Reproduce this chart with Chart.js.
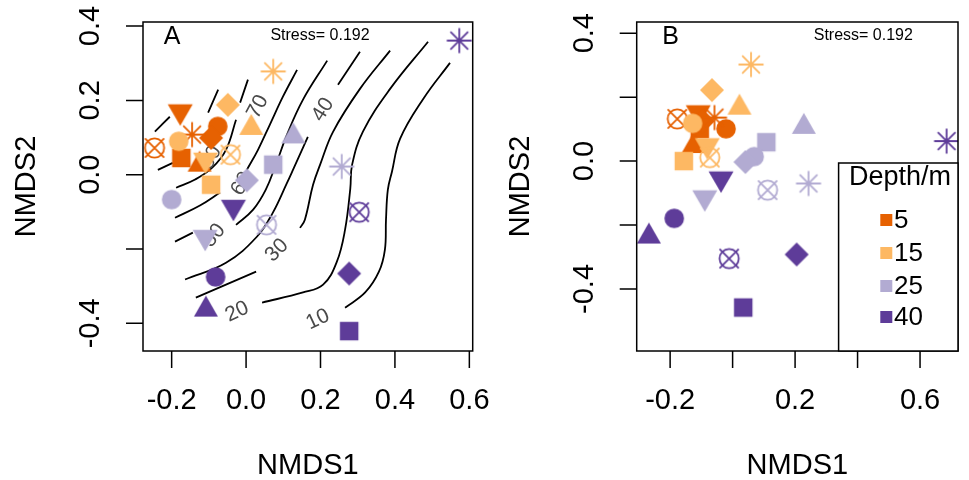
<!DOCTYPE html>
<html><head><meta charset="utf-8">
<script src="https://cdn.jsdelivr.net/npm/chart.js@4/dist/chart.umd.min.js"></script>
<style>
html,body{margin:0;padding:0;background:#fff;}
body{width:969px;height:480px;overflow:hidden;position:relative;}
canvas{position:absolute;top:0;}
</style></head>
<body>
<canvas id="pA" width="530" height="480" style="left:0px"></canvas>
<canvas id="pB" width="485" height="480" style="left:484px"></canvas>
<script>
// ---------------- DATA ----------------
const depthLabels = ['5', '15', '25', '40'];
const depthColors = ['#E66101', '#FDB863', '#B2ABD2', '#5E3C99'];
// marker order for every depth: square, circle, triangle, down-triangle, diamond, circle-X, asterisk
const shapeNames = ['square', 'circle', 'triangle', 'downTriangle', 'diamond', 'circleX', 'asterisk'];

// Panel A ordination scores [NMDS1, NMDS2]
const scoresA_5m  = [[-0.174, 0.045], [-0.076, 0.130], [-0.125, 0.027], [-0.177, 0.170], [-0.094, 0.099], [-0.246, 0.072], [-0.145, 0.108]];
const scoresA_15m = [[-0.094, -0.027], [-0.181, 0.090], [0.014, 0.126], [-0.109, 0.040], [-0.049, 0.188], [-0.042, 0.054], [0.073, 0.278]];
const scoresA_25m = [[0.073, 0.027], [-0.200, -0.067], [0.127, 0.103], [-0.110, -0.168], [0.002, -0.015], [0.055, -0.135], [0.257, 0.022]];
const scoresA_40m = [[0.277, -0.421], [-0.082, -0.275], [-0.108, -0.363], [-0.034, -0.087], [0.277, -0.266], [0.304, -0.101], [0.573, 0.361]];

// Panel B ordination scores
const scoresB_5m  = [[-0.105, 0.100], [-0.021, 0.101], [-0.125, 0.047], [-0.110, 0.152], [-0.095, 0.125], [-0.177, 0.132], [-0.058, 0.136]];
const scoresB_15m = [[-0.156, 0.000], [-0.128, 0.118], [0.022, 0.167], [-0.081, 0.049], [-0.066, 0.222], [-0.073, 0.011], [0.059, 0.302]];
const scoresB_25m = [[0.108, 0.059], [0.069, 0.014], [0.228, 0.107], [-0.089, -0.114], [0.041, -0.003], [0.112, -0.091], [0.243, -0.070]];
const scoresB_40m = [[0.034, -0.458], [-0.187, -0.179], [-0.268, -0.236], [-0.037, -0.055], [0.205, -0.292], [-0.011, -0.305], [0.685, 0.0625]];

// Fitted surface contours in panel A (pieces, broken where labels sit)
const contour10 = [[[0.266, -0.358], [0.320, -0.317], [0.357, -0.261], [0.373, -0.202], [0.376, -0.121], [0.381, -0.040], [0.392, 0.008], [0.414, 0.097], [0.476, 0.204], [0.548, 0.301]]];
const contour20 = [[[0.043, -0.344], [0.153, -0.317], [0.207, -0.296], [0.244, -0.234], [0.266, -0.148], [0.280, -0.038], [0.285, 0.027], [0.314, 0.116], [0.387, 0.231], [0.489, 0.358]]];
const contour30 = [[[-0.135, -0.331], [0.027, -0.261]], [[0.145, -0.143], [0.158, -0.121], [0.180, -0.027], [0.199, 0.027], [0.234, 0.116], [0.306, 0.231], [0.387, 0.334]]];
const contour40 = [[[-0.164, -0.282], [-0.054, -0.237], [0.029, -0.167], [0.072, -0.102], [0.110, -0.022], [0.126, 0.013], [0.166, 0.102]], [[0.247, 0.242], [0.306, 0.331]]];
const contour50 = [[[-0.191, -0.180], [-0.143, -0.156]], [[-0.027, -0.135], [0.019, -0.094], [0.053, -0.040], [0.080, 0.027], [0.110, 0.108], [0.153, 0.202], [0.218, 0.307]]];
const contour60 = [[[-0.191, -0.116], [-0.124, -0.083], [-0.070, -0.048]], [[0.002, 0.013], [0.032, 0.067], [0.064, 0.135], [0.099, 0.210], [0.137, 0.282]]];
const contour70 = [[[-0.188, -0.035], [-0.137, -0.013], [-0.091, 0.019], [-0.054, 0.067], [-0.027, 0.148]], [[-0.016, 0.194], [0.005, 0.256]]];
const contour80 = [[[-0.237, 0.013], [-0.197, 0.032]], [[-0.102, 0.167], [-0.075, 0.229]]];
const contour90 = [[[-0.245, 0.116], [-0.205, 0.156]]];

// contour labels: [text, NMDS1, NMDS2, angle]
const contourLabels = [
  ['10', 0.193, -0.390, -25], ['20', -0.024, -0.369, -25], ['30', 0.083, -0.204, -45],
  ['40', 0.207, 0.175, -58], ['50', -0.086, -0.164, -50], ['60', -0.011, -0.024, -60],
  ['70', 0.032, 0.183, -62], ['80', -0.094, 0.046, -60]
];

// axes
const xTicks = [-0.2, 0.0, 0.2, 0.4, 0.6];
const yTicks = [0.4, 0.2, 0.0, -0.2, -0.4];
const xTickLabelsA = ['-0.2', '0.0', '0.2', '0.4', '0.6'];
const yTickLabelsA = ['0.4', '0.2', '0.0', '', '-0.4'];
const xTickLabelsB = ['-0.2', '', '0.2', '', '0.6'];
const yTickLabelsB = ['0.4', '', '0.0', '', '-0.4'];
const stressText = 'Stress= 0.192';

// ---------------- RENDERING ----------------
const FONT = '"Liberation Sans", Arial, Helvetica, sans-serif';

function makeMarker(shape, color) {
  const S = 34, c = document.createElement('canvas');
  c.width = S; c.height = S;
  const g = c.getContext('2d'), m = S / 2;
  g.fillStyle = color; g.strokeStyle = color; g.lineWidth = 1.8;
  switch (shape) {
    case 'square': g.fillRect(m - 9.25, m - 9.25, 18.5, 18.5); break;
    case 'circle': g.beginPath(); g.arc(m, m, 9.8, 0, 2 * Math.PI); g.fill(); break;
    case 'triangle': { const w = 24, h = 21; g.beginPath(); g.moveTo(m, m - 2 * h / 3); g.lineTo(m + w / 2, m + h / 3); g.lineTo(m - w / 2, m + h / 3); g.closePath(); g.fill(); break; }
    case 'downTriangle': { const w = 25, h = 21.5; g.beginPath(); g.moveTo(m, m + 2 * h / 3); g.lineTo(m + w / 2, m - h / 3); g.lineTo(m - w / 2, m - h / 3); g.closePath(); g.fill(); break; }
    case 'diamond': { const r = 12; g.beginPath(); g.moveTo(m, m - r); g.lineTo(m + r, m); g.lineTo(m, m + r); g.lineTo(m - r, m); g.closePath(); g.fill(); break; }
    case 'circleX': { const r = 9.6; g.beginPath(); g.arc(m, m, r, 0, 2 * Math.PI); g.stroke(); g.beginPath(); g.moveTo(m - r, m - r); g.lineTo(m + r, m + r); g.moveTo(m - r, m + r); g.lineTo(m + r, m - r); g.stroke(); break; }
    case 'asterisk': { const L = 12.5, d = L / Math.SQRT2; g.beginPath(); g.moveTo(m - L, m); g.lineTo(m + L, m); g.moveTo(m, m - L); g.lineTo(m, m + L); g.moveTo(m - d, m - d); g.lineTo(m + d, m + d); g.moveTo(m - d, m + d); g.lineTo(m + d, m - d); g.stroke(); break; }
  }
  return c;
}
const markers = depthColors.map(col => shapeNames.map(s => makeMarker(s, col)));

function pointDatasets(scoreSets) {
  return scoreSets.map((pts, d) => ({
    role: 'points',
    data: pts.map(([x, y]) => ({ x, y })),
    pointStyle: markers[d],
    pointRadius: 10,
    showLine: false,
    order: 4 - d
  }));
}
function contourDatasets(contours) {
  const out = [];
  contours.forEach(pieces => pieces.forEach(p => out.push({
    role: 'contour',
    data: p.map(([x, y]) => ({ x, y })),
    showLine: true, borderColor: '#000', borderWidth: 1.8,
    pointRadius: 0, tension: 0.4, fill: false, order: 10
  })));
  return out;
}

function makePanel(id, cfg) {
  let labelsDone = false;
  const deco = {
    id: 'deco' + id,
    beforeDatasetsDraw() { labelsDone = false; },
    beforeDatasetDraw(chart, args) {
      const ds = chart.data.datasets[args.index];
      if (ds.role === 'points' && !labelsDone) {
        labelsDone = true;
        if (cfg.labels) {
          const ctx = chart.ctx, xs = chart.scales.x, ys = chart.scales.y;
          ctx.save();
          ctx.fillStyle = '#4a4a4a';
          ctx.font = '21px ' + FONT;
          ctx.textAlign = 'center'; ctx.textBaseline = 'middle';
          cfg.labels.forEach(([t, x, y, a]) => {
            ctx.save();
            ctx.translate(xs.getPixelForValue(x), ys.getPixelForValue(y));
            ctx.rotate(a * Math.PI / 180);
            ctx.fillText(t, 0, 0);
            ctx.restore();
          });
          ctx.restore();
        }
      }
    },
    afterDraw(chart) {
      const ctx = chart.ctx, a = chart.chartArea, xs = chart.scales.x, ys = chart.scales.y;
      ctx.save();
      ctx.strokeStyle = '#000'; ctx.lineWidth = 1.5;
      ctx.strokeRect(a.left, a.top, a.right - a.left, a.bottom - a.top);
      // ticks
      ctx.beginPath();
      xTicks.forEach(v => { const p = xs.getPixelForValue(v); ctx.moveTo(p, a.bottom); ctx.lineTo(p, a.bottom + 17); });
      yTicks.forEach(v => { const p = ys.getPixelForValue(v); ctx.moveTo(a.left, p); ctx.lineTo(a.left - 17, p); });
      ctx.stroke();
      ctx.fillStyle = '#000';
      ctx.font = '29px ' + FONT;
      ctx.textAlign = 'center'; ctx.textBaseline = 'middle';
      xTicks.forEach((v, i) => { if (cfg.xLabels[i]) ctx.fillText(cfg.xLabels[i], xs.getPixelForValue(v), a.bottom + 50); });
      yTicks.forEach((v, i) => {
        if (!cfg.yLabels[i]) return;
        ctx.save(); ctx.translate(a.left - 52, ys.getPixelForValue(v)); ctx.rotate(-Math.PI / 2);
        ctx.fillText(cfg.yLabels[i], 0, 0); ctx.restore();
      });
      // axis titles
      ctx.fillText('NMDS1', (a.left + a.right) / 2, a.bottom + 115);
      ctx.save(); ctx.translate(a.left - 116, (a.top + a.bottom) / 2); ctx.rotate(-Math.PI / 2);
      ctx.fillText('NMDS2', 0, 0); ctx.restore();
      // panel letter & stress
      ctx.font = '25px ' + FONT;
      ctx.fillText(cfg.letter, a.left + cfg.letterDx, a.top + 15);
      ctx.font = '16px ' + FONT;
      ctx.fillText(stressText, a.left + cfg.stressDx, a.top + 14);
      // legend
      if (cfg.legend) {
        const L = a.right - 119.4, T = 163;
        ctx.fillStyle = '#fff';
        ctx.fillRect(L, T, a.right - L, a.bottom - T);
        ctx.strokeRect(L, T, a.right - L, a.bottom - T);
        ctx.fillStyle = '#000';
        ctx.font = '27px ' + FONT;
        ctx.textAlign = 'center';
        ctx.fillText('Depth/m', L + 61.4, T + 15);
        ctx.font = '26px ' + FONT; ctx.textAlign = 'left';
        const rows = [220, 253, 286, 317];
        depthLabels.forEach((lab, i) => {
          ctx.fillStyle = depthColors[i];
          ctx.fillRect(L + 47.7 - 6, rows[i] - 6, 12, 12);
          ctx.fillStyle = '#000';
          ctx.fillText(lab, L + 55.5, rows[i] + 1);
        });
      }
      ctx.restore();
    }
  };
  return new Chart(document.getElementById(id), {
    type: 'scatter',
    data: { datasets: cfg.datasets },
    options: {
      responsive: false, animation: false, events: [],
      layout: { padding: cfg.padding },
      plugins: { legend: { display: false }, tooltip: { enabled: false } },
      scales: {
        x: { type: 'linear', min: cfg.xr[0], max: cfg.xr[1], display: false },
        y: { type: 'linear', min: cfg.yr[0], max: cfg.yr[1], display: false }
      }
    },
    plugins: [deco]
  });
}

makePanel('pA', {
  datasets: contourDatasets([contour10, contour20, contour30, contour40, contour50, contour60, contour70, contour80, contour90])
    .concat(pointDatasets([scoresA_5m, scoresA_15m, scoresA_25m, scoresA_40m])),
  labels: contourLabels,
  xr: [-0.277, 0.609], yr: [-0.4745, 0.411],
  padding: { left: 143, right: 57.3, top: 22, bottom: 129 },
  xLabels: xTickLabelsA, yLabels: yTickLabelsA,
  letter: 'A', letterDx: 29, stressDx: 177
});
makePanel('pB', {
  datasets: pointDatasets([scoresB_5m, scoresB_15m, scoresB_25m, scoresB_40m]),
  labels: null,
  xr: [-0.307, 0.7215], yr: [-0.594, 0.435],
  padding: { left: 152.7, right: 2.3, top: 22, bottom: 129 },
  xLabels: xTickLabelsB, yLabels: yTickLabelsB,
  letter: 'B', letterDx: 34, stressDx: 226.6,
  legend: true
});
</script>
</body></html>
